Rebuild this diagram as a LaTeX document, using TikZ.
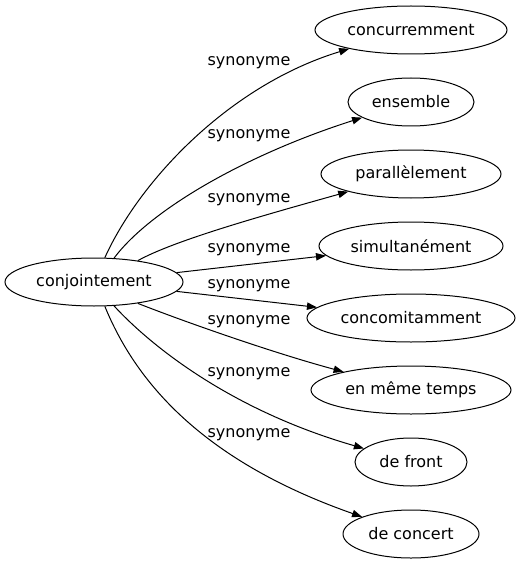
\documentclass[tikz,border=0pt]{standalone}
\usepackage{fontspec}
\setmainfont{DejaVu Sans}
\usepackage{tikz}
\usetikzlibrary{shapes.geometric, arrows.meta, positioning}
\tikzstyle{word} = [ellipse, draw=black, line width=0.75pt, minimum height=36pt, inner sep=0pt, text centered, font=\fontsize{12pt}{14pt}\selectfont]
\tikzstyle{rel} = [inner sep=0pt, font=\fontsize{12pt}{14pt}\selectfont]
\tikzstyle{arrow} = [line width=0.75pt, -{Triangle[length=7.5pt, width=5.5pt]}]

\begin{document}
\begin{tikzpicture}[x=0.75pt, y=-0.75pt, node distance=54pt]
	\useasboundingbox (0,0) rectangle (520,563);

		% Draw the nodes
		\node (conj) [word, minimum width=133.5pt] at (94,282) {conjointement};
		\node (concurr) [word, minimum width=144pt] at (411,30) {concurremment};
		\node (ensemble) [word, below of=concurr, minimum width=94.5pt] {ensemble};
		\node (parall) [word, below of=ensemble, minimum width=135pt] {parallèlement};
		\node (simult) [word, below of=parall, minimum width=138pt] {simultanément};
		\node (concom) [word, below of=simult, minimum width=156pt] {concomitamment};
		\node (memetemps) [word, below of=concom, minimum width=150pt] {en même temps};
		\node (front) [word, below of=memetemps, minimum width=84pt] {de front};
		\node (concert) [word, below of=front, minimum width=102pt] {de concert};

		% Draw the labels
		\node (syn1) [rel] at (249,63) {synonyme};
		\node (syn2) [rel] at (249,136) {synonyme};
		\node (syn3) [rel] at (249,200) {synonyme};
		\node (syn4) [rel] at (249,250) {synonyme};
		\node (syn5) [rel] at (249,286) {synonyme};
		\node (syn6) [rel] at (249,322) {synonyme};
		\node (syn7) [rel] at (249,374) {synonyme};
		\node (syn8) [rel] at (249,435) {synonyme};

		%Draw the arrows
		\draw [arrow] (conj.66) .. controls (140,180) and (230,85) .. (concurr);
		\draw [arrow] (conj.50) .. controls (150,210) and (245,155) .. (ensemble);
		\draw [arrow] (conj.26) .. controls (175,240) and (265,215) .. (parall);
		\draw [arrow] (conj) -- (simult);
		\draw [arrow] (conj) -- (concom);
		\draw [arrow] (conj.-26) .. controls (180,320) and (270,352) .. (memetemps);
		\draw [arrow] (conj.-50) .. controls (150,345) and (230,410) .. (front);
		\draw [arrow] (conj.-66) .. controls (135,380) and (200,460) .. (concert);

	\end{tikzpicture}
\end{document}
